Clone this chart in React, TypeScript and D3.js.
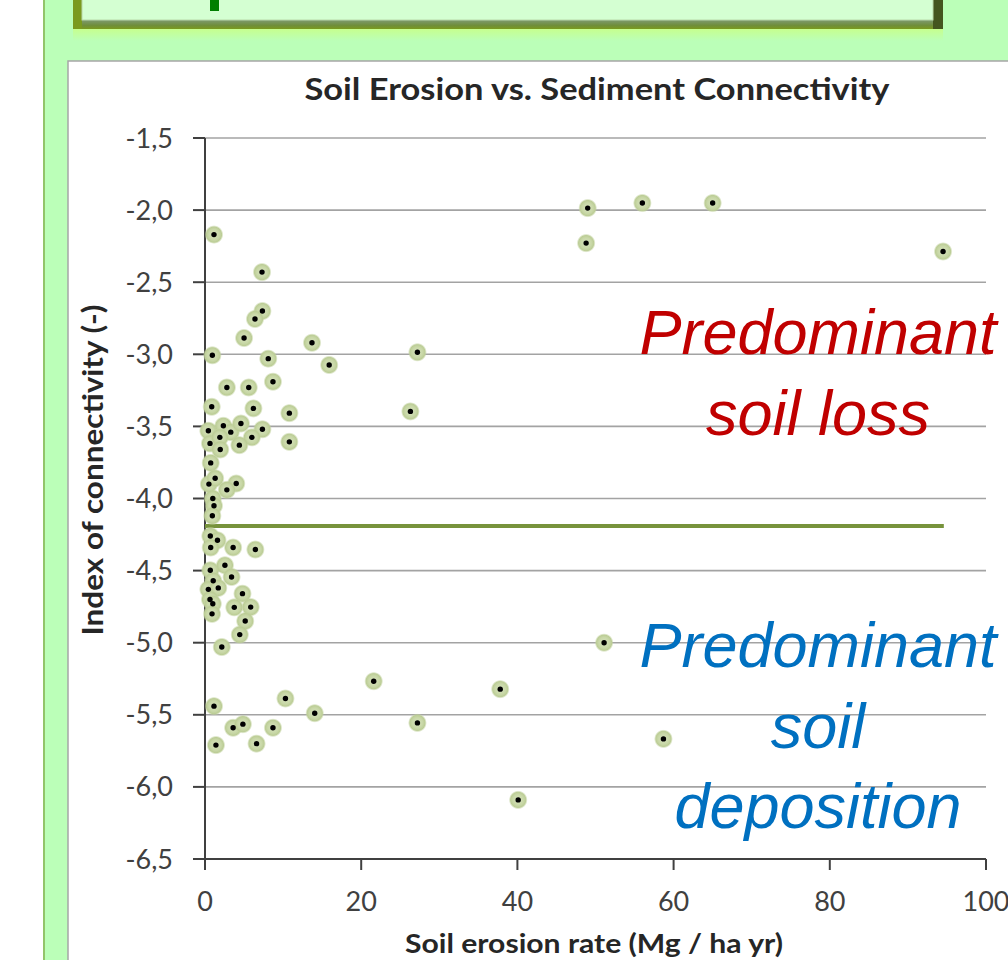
import React, { useEffect } from "react";
import * as d3 from "d3";

const erosionRate: number[] = [
  1.15, 7.3, 7.35, 6.4, 5.0, 0.94, 8.1, 13.7, 27.2, 15.9, 26.3, 2.8, 5.6, 8.7, 0.86,
  6.2, 10.8, 10.8, 0.43, 2.35, 3.3, 4.6, 7.35, 6.0, 0.64, 1.9, 1.95, 4.4, 0.73, 0.5,
  1.3, 4.0, 2.8, 1.0, 1.15, 0.94, 0.68, 1.6, 0.73, 3.6, 6.45, 0.68, 2.55, 3.4, 1.05,
  0.43, 1.7, 4.8, 0.64, 1.0, 3.75, 5.85, 0.9, 5.15, 4.45, 2.15, 1.15, 10.3, 3.6, 4.85,
  8.7, 1.4, 6.6, 21.6, 27.2, 14.05, 49.0, 56.0, 65.0, 48.8, 94.5, 51.1, 37.8, 58.7, 40.1,
];
const connectivity: number[] = [
  -2.17, -2.43, -2.7, -2.755, -2.887, -3.007, -3.03, -2.92, -2.986, -3.074, -3.396, -3.23, -3.23, -3.19, -3.364,
  -3.375, -3.408, -3.607, -3.53, -3.496, -3.54, -3.48, -3.52, -3.576, -3.618, -3.576, -3.66, -3.63, -3.753, -3.9,
  -3.86, -3.896, -3.94, -4.0, -4.05, -4.12, -4.26, -4.29, -4.34, -4.34, -4.354, -4.498, -4.463, -4.544, -4.57,
  -4.63, -4.62, -4.66, -4.7, -4.73, -4.755, -4.753, -4.8, -4.85, -4.944, -5.03, -5.44, -5.387, -5.59, -5.565,
  -5.59, -5.71, -5.7, -5.267, -5.556, -5.489, -1.986, -1.951, -1.951, -2.229, -2.287, -5.0, -5.322, -5.667, -6.09,
];
const thresholdLine: [number, number][] = [
  [0, -4.19],
  [94.6, -4.19],
];
const xTicks: number[] = [0, 20, 40, 60, 80, 100];
const yTicks: number[] = [-6.5, -6.0, -5.5, -5.0, -4.5, -4.0, -3.5, -3.0, -2.5, -2.0, -1.5];

const chartTitle = "Soil Erosion vs. Sediment Connectivity";
const xTitle = "Soil erosion rate (Mg / ha yr)";
const yTitle = "Index of connectivity (-)";
const lossLabel = ["Predominant", "soil loss"];
const depLabel = ["Predominant", "soil", "deposition"];

const FONT = "Lato, 'Open Sans', sans-serif";

export default function App() {
  useEffect(() => {
    document.body.style.margin = "0";
  }, []);

  const x = d3.scaleLinear().domain([0, 100]).range([205, 986]);
  const y = d3.scaleLinear().domain([-6.5, -1.5]).range([859, 138]);
  const fmt = (v: number) => d3.format(".1f")(v).replace(".", ",").replace("−", "-");
  const line = d3
    .line<[number, number]>()
    .x((d) => x(d[0]))
    .y((d) => y(d[1]));
  const points = erosionRate.map((e, i) => [e, connectivity[i]] as [number, number]);

  return (
    <svg
      width={1008}
      height={960}
      style={{ position: "absolute", left: 0, top: 0, display: "block" }}
      xmlns="http://www.w3.org/2000/svg"
    >
      <defs>
        <radialGradient id="halo">
          <stop offset="0%" stopColor="#d6e2be" />
          <stop offset="55%" stopColor="#c9d8a8" />
          <stop offset="80%" stopColor="#bccd96" />
          <stop offset="100%" stopColor="#c8d8a8" stopOpacity={0} />
        </radialGradient>
        <linearGradient id="glow" x1="0" y1="0" x2="0" y2="1">
          <stop offset="0%" stopColor="#c6ff8e" />
          <stop offset="100%" stopColor="#bbffb8" />
        </linearGradient>
        <linearGradient id="bevelB" x1="0" y1="0" x2="0" y2="1">
          <stop offset="0%" stopColor="#7e9a72" />
          <stop offset="60%" stopColor="#6f8e3a" />
          <stop offset="100%" stopColor="#7a9a1e" />
        </linearGradient>
      </defs>
      {/* page background */}
      <rect x={0} y={0} width={1008} height={960} fill="#ffffff" />
      <rect x={44} y={0} width={964} height={960} fill="#bbffb8" />
      <line x1={44} y1={0} x2={44} y2={960} stroke="#92c46a" strokeWidth={2} />
      {/* title box */}
      <rect x={73} y={29} width={870} height={12} fill="url(#glow)" />
      <rect x={73} y={-10} width={870} height={39} fill="#7a9a1e" />
      <rect x={82} y={20} width={851} height={9} fill="url(#bevelB)" />
      <rect x={933} y={-10} width={10} height={39} fill="#44561f" />
      <rect x={82} y={-10} width={851} height={30} fill="#d4ffd2" />
      <rect x={82} y={-10} width={851} height={30} fill="none" stroke="#b8d8a8" strokeWidth={1} />
      {/* descender of the cut-off heading letter */}
      <rect x={210} y={0} width={9} height={11} fill="#007f00" />
      {/* chart panel */}
      <rect x={68} y={61} width={960} height={920} fill="#ffffff" stroke="#a6a6a6" strokeWidth={1.5} />
      {/* title */}
      <text
        x={597}
        y={100}
        textAnchor="middle"
        fontFamily={FONT}
        fontWeight="bold"
        fontSize={31}
        textLength={585}
        lengthAdjust="spacingAndGlyphs"
        fill="#262626"
      >
        {chartTitle}
      </text>
      {/* gridlines */}
      {yTicks.slice(1).map((t) => (
        <line key={"g" + t} x1={x(0)} x2={x(100)} y1={y(t)} y2={y(t)} stroke="#a3a3a3" strokeWidth={1.6} />
      ))}
      {/* axes */}
      <line x1={x(0)} x2={x(0)} y1={y(-1.5)} y2={y(-6.5)} stroke="#404040" strokeWidth={2} />
      <line x1={193} x2={x(100)} y1={y(-6.5)} y2={y(-6.5)} stroke="#404040" strokeWidth={2} />
      {yTicks.map((t) => (
        <g key={"yt" + t}>
          <line x1={193} x2={x(0)} y1={y(t)} y2={y(t)} stroke="#404040" strokeWidth={2} />
          <text x={173} y={y(t) + 9.5} textAnchor="end" fontFamily={FONT} fontSize={27} fill="#404040">
            {fmt(t)}
          </text>
        </g>
      ))}
      {xTicks.map((t) => (
        <g key={"xt" + t}>
          <line x1={x(t)} x2={x(t)} y1={y(-6.5)} y2={y(-6.5) + 11} stroke="#404040" strokeWidth={2} />
          <text x={x(t)} y={911} textAnchor="middle" fontFamily={FONT} fontSize={27} fill="#404040">
            {t}
          </text>
        </g>
      ))}
      {/* axis titles */}
      <text
        x={594}
        y={953}
        textAnchor="middle"
        fontFamily={FONT}
        fontWeight="bold"
        fontSize={26}
        textLength={378}
        lengthAdjust="spacingAndGlyphs"
        fill="#262626"
      >
        {xTitle}
      </text>
      <text
        transform={`translate(103, 470) rotate(-90)`}
        textAnchor="middle"
        fontFamily={FONT}
        fontWeight="bold"
        fontSize={28}
        textLength={331}
        lengthAdjust="spacingAndGlyphs"
        fill="#262626"
      >
        {yTitle}
      </text>
      {/* threshold line */}
      <path d={line(thresholdLine) || ""} stroke="#77933c" strokeWidth={4} fill="none" />
      {/* points */}
      {points.map((p, i) => (
        <circle key={"h" + i} cx={x(p[0])} cy={y(p[1])} r={9.5} fill="url(#halo)" />
      ))}
      {points.map((p, i) => (
        <circle key={"c" + i} cx={x(p[0])} cy={y(p[1])} r={2.7} fill="#000000" />
      ))}
      {/* annotations */}
      {lossLabel.map((s, i) => (
        <text
          key={"l" + i}
          x={818}
          y={354 + i * 81}
          textAnchor="middle"
          fontFamily="'Liberation Sans', Arial, sans-serif"
          fontStyle="italic"
          fontSize={63}
          fill="#c00000"
        >
          {s}
        </text>
      ))}
      {depLabel.map((s, i) => (
        <text
          key={"d" + i}
          x={818}
          y={667 + i * 80.5}
          textAnchor="middle"
          fontFamily="'Liberation Sans', Arial, sans-serif"
          fontStyle="italic"
          fontSize={63}
          fill="#0070c0"
        >
          {s}
        </text>
      ))}
    </svg>
  );
}
